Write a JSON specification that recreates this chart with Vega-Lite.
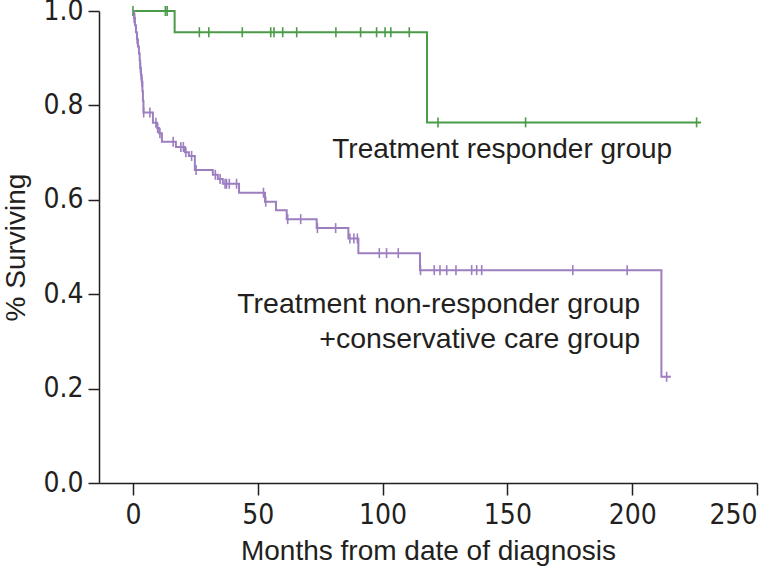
{
  "$schema": "https://vega.github.io/schema/vega-lite/v6.json",
  "width": 658,
  "height": 472,
  "autosize": "none",
  "padding": {"left": 99, "top": 11, "right": 22, "bottom": 90},
  "background": "white",
  "config": {
    "view": {"stroke": null},
    "axis": {
      "grid": false,
      "domainColor": "#231f20",
      "domainWidth": 1.5,
      "tickColor": "#231f20",
      "tickWidth": 1.5,
      "labelColor": "#231f20",
      "titleColor": "#231f20",
      "labelFont": "Liberation Sans Narrow, Arial Narrow, DejaVu Sans Condensed, sans-serif",
      "labelFontSize": 28,
      "titleFont": "Liberation Sans, Arial, sans-serif",
      "titleFontSize": 28,
      "titleFontWeight": "normal"
    }
  },
  "datasets": {
    "curves": [
      {"group": "Responder", "month": 0, "surv": 1.0},
      {"group": "Responder", "month": 16.7, "surv": 0.955},
      {"group": "Responder", "month": 117.8, "surv": 0.764},
      {"group": "Responder", "month": 227.6, "surv": 0.764},
      {"group": "Non-responder", "month": 0, "surv": 1.0},
      {"group": "Non-responder", "month": 0.4, "surv": 0.985},
      {"group": "Non-responder", "month": 0.8, "surv": 0.97},
      {"group": "Non-responder", "month": 1.2, "surv": 0.955},
      {"group": "Non-responder", "month": 1.6, "surv": 0.94},
      {"group": "Non-responder", "month": 2.0, "surv": 0.925},
      {"group": "Non-responder", "month": 2.4, "surv": 0.91},
      {"group": "Non-responder", "month": 2.7, "surv": 0.895},
      {"group": "Non-responder", "month": 2.9, "surv": 0.88},
      {"group": "Non-responder", "month": 3.2, "surv": 0.865},
      {"group": "Non-responder", "month": 3.5, "surv": 0.85},
      {"group": "Non-responder", "month": 3.8, "surv": 0.83},
      {"group": "Non-responder", "month": 4.0, "surv": 0.81},
      {"group": "Non-responder", "month": 4.2, "surv": 0.785},
      {"group": "Non-responder", "month": 8.0, "surv": 0.763},
      {"group": "Non-responder", "month": 9.7, "surv": 0.752},
      {"group": "Non-responder", "month": 10.5, "surv": 0.741},
      {"group": "Non-responder", "month": 11.6, "surv": 0.723},
      {"group": "Non-responder", "month": 17.2, "surv": 0.712},
      {"group": "Non-responder", "month": 20.8, "surv": 0.701},
      {"group": "Non-responder", "month": 22.4, "surv": 0.693},
      {"group": "Non-responder", "month": 24.8, "surv": 0.663},
      {"group": "Non-responder", "month": 32.0, "surv": 0.653},
      {"group": "Non-responder", "month": 34.0, "surv": 0.644},
      {"group": "Non-responder", "month": 36.0, "surv": 0.634},
      {"group": "Non-responder", "month": 42.5, "surv": 0.615},
      {"group": "Non-responder", "month": 52.9, "surv": 0.596},
      {"group": "Non-responder", "month": 57.3, "surv": 0.578},
      {"group": "Non-responder", "month": 61.6, "surv": 0.559},
      {"group": "Non-responder", "month": 73.6, "surv": 0.54},
      {"group": "Non-responder", "month": 86.3, "surv": 0.518},
      {"group": "Non-responder", "month": 90.3, "surv": 0.487},
      {"group": "Non-responder", "month": 115.0, "surv": 0.451},
      {"group": "Non-responder", "month": 211.7, "surv": 0.225},
      {"group": "Non-responder", "month": 215.5, "surv": 0.225}
    ],
    "censored": [
      {"group": "Responder", "month": 0, "surv": 1.0},
      {"group": "Responder", "month": 13.0, "surv": 1.0},
      {"group": "Responder", "month": 13.7, "surv": 1.0},
      {"group": "Responder", "month": 26.6, "surv": 0.955},
      {"group": "Responder", "month": 30.4, "surv": 0.955},
      {"group": "Responder", "month": 43.8, "surv": 0.955},
      {"group": "Responder", "month": 55.2, "surv": 0.955},
      {"group": "Responder", "month": 56.5, "surv": 0.955},
      {"group": "Responder", "month": 60.0, "surv": 0.955},
      {"group": "Responder", "month": 65.6, "surv": 0.955},
      {"group": "Responder", "month": 81.3, "surv": 0.955},
      {"group": "Responder", "month": 91.2, "surv": 0.955},
      {"group": "Responder", "month": 97.6, "surv": 0.955},
      {"group": "Responder", "month": 101.0, "surv": 0.955},
      {"group": "Responder", "month": 103.3, "surv": 0.955},
      {"group": "Responder", "month": 110.7, "surv": 0.955},
      {"group": "Responder", "month": 122.2, "surv": 0.764},
      {"group": "Responder", "month": 157.3, "surv": 0.764},
      {"group": "Responder", "month": 225.8, "surv": 0.764},
      {"group": "Non-responder", "month": 0.5, "surv": 0.985},
      {"group": "Non-responder", "month": 0.7, "surv": 0.985},
      {"group": "Non-responder", "month": 1.7, "surv": 0.94},
      {"group": "Non-responder", "month": 3.0, "surv": 0.88},
      {"group": "Non-responder", "month": 3.3, "surv": 0.865},
      {"group": "Non-responder", "month": 3.6, "surv": 0.85},
      {"group": "Non-responder", "month": 4.3, "surv": 0.785},
      {"group": "Non-responder", "month": 6.8, "surv": 0.785},
      {"group": "Non-responder", "month": 9.2, "surv": 0.763},
      {"group": "Non-responder", "month": 9.9, "surv": 0.752},
      {"group": "Non-responder", "month": 10.8, "surv": 0.741},
      {"group": "Non-responder", "month": 16.1, "surv": 0.723},
      {"group": "Non-responder", "month": 19.2, "surv": 0.712},
      {"group": "Non-responder", "month": 20.2, "surv": 0.712},
      {"group": "Non-responder", "month": 21.2, "surv": 0.701},
      {"group": "Non-responder", "month": 23.5, "surv": 0.693},
      {"group": "Non-responder", "month": 25.3, "surv": 0.663},
      {"group": "Non-responder", "month": 33.0, "surv": 0.653},
      {"group": "Non-responder", "month": 34.9, "surv": 0.644},
      {"group": "Non-responder", "month": 36.9, "surv": 0.634},
      {"group": "Non-responder", "month": 37.5, "surv": 0.634},
      {"group": "Non-responder", "month": 38.6, "surv": 0.634},
      {"group": "Non-responder", "month": 41.5, "surv": 0.634},
      {"group": "Non-responder", "month": 52.3, "surv": 0.615},
      {"group": "Non-responder", "month": 53.2, "surv": 0.596},
      {"group": "Non-responder", "month": 62.0, "surv": 0.559},
      {"group": "Non-responder", "month": 67.2, "surv": 0.559},
      {"group": "Non-responder", "month": 73.9, "surv": 0.54},
      {"group": "Non-responder", "month": 81.2, "surv": 0.54},
      {"group": "Non-responder", "month": 86.9, "surv": 0.518},
      {"group": "Non-responder", "month": 88.5, "surv": 0.518},
      {"group": "Non-responder", "month": 89.9, "surv": 0.518},
      {"group": "Non-responder", "month": 98.7, "surv": 0.487},
      {"group": "Non-responder", "month": 101.6, "surv": 0.487},
      {"group": "Non-responder", "month": 106.3, "surv": 0.487},
      {"group": "Non-responder", "month": 115.2, "surv": 0.451},
      {"group": "Non-responder", "month": 120.7, "surv": 0.451},
      {"group": "Non-responder", "month": 123.0, "surv": 0.451},
      {"group": "Non-responder", "month": 125.7, "surv": 0.451},
      {"group": "Non-responder", "month": 129.4, "surv": 0.451},
      {"group": "Non-responder", "month": 135.7, "surv": 0.451},
      {"group": "Non-responder", "month": 137.7, "surv": 0.451},
      {"group": "Non-responder", "month": 139.7, "surv": 0.451},
      {"group": "Non-responder", "month": 176.2, "surv": 0.451},
      {"group": "Non-responder", "month": 198.0, "surv": 0.451},
      {"group": "Non-responder", "month": 213.8, "surv": 0.225}
    ],
    "labelA": [{"label": "Treatment responder group"}],
    "labelB": [{"label": "Treatment non-responder group"}],
    "labelC": [{"label": "+conservative care group"}]
  },
  "layer": [
    {
      "data": {"name": "curves"},
      "mark": {"type": "line", "interpolate": "step-after", "strokeWidth": 2},
      "encoding": {
        "x": {
          "field": "month",
          "type": "quantitative",
          "scale": {"domain": [-13.6, 250], "nice": false, "zero": false},
          "axis": {
            "title": "Months from date of diagnosis",
            "values": [0, 50, 100, 150, 200, 250],
            "tickSize": 12,
            "labelPadding": 6,
            "titlePadding": 8
          }
        },
        "y": {
          "field": "surv",
          "type": "quantitative",
          "scale": {"domain": [0, 1], "nice": false},
          "axis": {
            "title": "% Surviving",
            "values": [0, 0.2, 0.4, 0.6, 0.8, 1.0],
            "format": ".1f",
            "tickSize": 11,
            "labelPadding": 5,
            "titlePadding": 12
          }
        },
        "color": {
          "field": "group",
          "type": "nominal",
          "scale": {"domain": ["Responder", "Non-responder"], "range": ["#4a9b48", "#9d7fc0"]},
          "legend": null
        }
      }
    },
    {
      "data": {"name": "censored"},
      "mark": {"type": "tick", "orient": "vertical", "size": 10, "thickness": 1.6, "opacity": 1},
      "encoding": {
        "x": {"field": "month", "type": "quantitative"},
        "y": {"field": "surv", "type": "quantitative"},
        "color": {"field": "group", "type": "nominal", "legend": null}
      }
    },
    {
      "data": {"name": "labelA"},
      "mark": {"type": "text", "align": "right", "baseline": "middle", "font": "Liberation Sans, Arial, sans-serif", "fontSize": 28, "fill": "#231f20"},
      "encoding": {
        "x": {"datum": 216, "type": "quantitative"},
        "y": {"datum": 0.706, "type": "quantitative"},
        "text": {"field": "label", "type": "nominal"}
      }
    },
    {
      "data": {"name": "labelB"},
      "mark": {"type": "text", "align": "right", "baseline": "middle", "font": "Liberation Sans, Arial, sans-serif", "fontSize": 28.5, "fill": "#231f20"},
      "encoding": {
        "x": {"datum": 203.2, "type": "quantitative"},
        "y": {"datum": 0.379, "type": "quantitative"},
        "text": {"field": "label", "type": "nominal"}
      }
    },
    {
      "data": {"name": "labelC"},
      "mark": {"type": "text", "align": "right", "baseline": "middle", "font": "Liberation Sans, Arial, sans-serif", "fontSize": 28.5, "fill": "#231f20"},
      "encoding": {
        "x": {"datum": 203.2, "type": "quantitative"},
        "y": {"datum": 0.305, "type": "quantitative"},
        "text": {"field": "label", "type": "nominal"}
      }
    }
  ]
}
